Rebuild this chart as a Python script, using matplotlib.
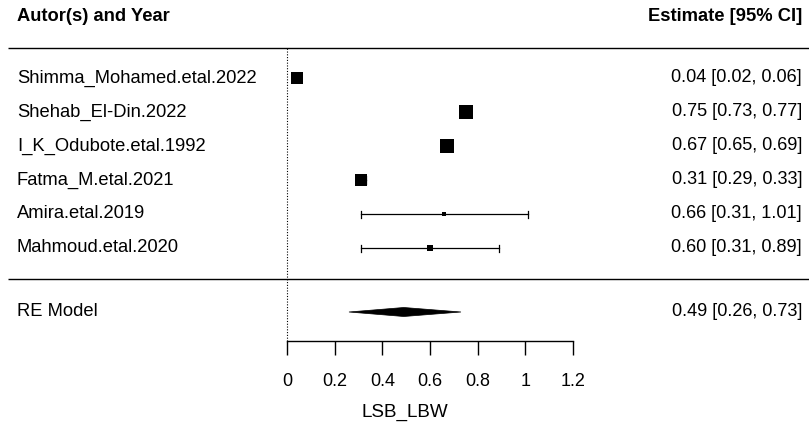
import matplotlib
matplotlib.use("Agg")
import matplotlib.pyplot as plt
from matplotlib.patches import Polygon

studies = ["Shimma_Mohamed.etal.2022", "Shehab_El-Din.2022", "I_K_Odubote.etal.1992",
           "Fatma_M.etal.2021", "Amira.etal.2019", "Mahmoud.etal.2020"]
est = [0.04, 0.75, 0.67, 0.31, 0.66, 0.60]
lo = [0.02, 0.73, 0.65, 0.29, 0.31, 0.31]
hi = [0.06, 0.77, 0.69, 0.33, 1.01, 0.89]
re_est, re_lo, re_hi = 0.49, 0.26, 0.73
xticks = [0, 0.2, 0.4, 0.6, 0.8, 1, 1.2]
xticklabels = ["0", "0.2", "0.4", "0.6", "0.8", "1", "1.2"]

# style
box_px = [12, 13, 13, 12, 3, 6]
FONT = "Liberation Sans"
FS_NAME = 13.2
FS_NUM = 13.1
FS_HEAD = 13.2
FS_TICK = 13.0
FS_XLAB = 13.6

W, H = 809, 424
fig = plt.figure(figsize=(W / 100, H / 100), dpi=100)
axis_px = 341
ax = fig.add_axes([0, (H - axis_px) / H, 1, axis_px / H])

x0_px, x12_px = 287, 573
ppu = (x12_px - x0_px) / 1.2
ax.set_xlim(-x0_px / ppu, (W - x0_px) / ppu)

# y: row units, 34 px per row; study rows k..1, top study at px 78
row_px = 34.0
k = len(studies)
top_row_px = 78
def ypx(p):
    return k - (p - top_row_px) / row_px
ax.set_ylim(ypx(axis_px), ypx(0))

rows = [k - i for i in range(k)]
re_row = ypx(312)

# zero line
ax.plot([0, 0], [ypx(axis_px), ypx(48)], color="black", linestyle=(0, (1, 1.5)), lw=0.8)
# horizontal rules
xl = ax.get_xlim()
for p in (48, 279):
    ax.plot([(8 - x0_px) / ppu, xl[1]], [ypx(p), ypx(p)], color="black", lw=1.0, solid_capstyle="butt")

cap = 3.5 / row_px
for r, e, l, h, s in zip(rows, est, lo, hi, box_px):
    ax.plot([l, h], [r, r], color="black", lw=0.9)
    ax.plot([l, l], [r - cap, r + cap], color="black", lw=0.9)
    ax.plot([h, h], [r - cap, r + cap], color="black", lw=0.9)
    ax.plot([e], [r], marker="s", color="black", markersize=s * 0.75, markeredgewidth=0)

dh = 4.5 / row_px
ax.add_patch(Polygon([(re_lo, re_row), (re_est, re_row + dh), (re_hi, re_row), (re_est, re_row - dh)],
                     closed=True, facecolor="black", edgecolor="black", lw=0.5))

# texts
tx_left = (17 - x0_px) / ppu
tx_right = (802 - x0_px) / ppu
for r, name, e, l, h in zip(rows, studies, est, lo, hi):
    ax.text(tx_left, r, name, ha="left", va="center", fontsize=FS_NAME, family=FONT)
    ax.text(tx_right, r, f"{e:.2f} [{l:.2f}, {h:.2f}]", ha="right", va="center", fontsize=FS_NUM, family=FONT)
ax.text(tx_left, re_row, "RE Model", ha="left", va="center", fontsize=FS_NAME, family=FONT)
ax.text(tx_right, re_row, f"{re_est:.2f} [{re_lo:.2f}, {re_hi:.2f}]", ha="right", va="center", fontsize=FS_NUM, family=FONT)
ax.text((17 - x0_px) / ppu, ypx(17), "Autor(s) and Year", ha="left", va="center", fontsize=FS_HEAD, family=FONT, fontweight="bold")
ax.text((802 - x0_px) / ppu, ypx(17), "Estimate [95% CI]", ha="right", va="center", fontsize=FS_HEAD, family=FONT, fontweight="bold")

# axis
for s in ("left", "right", "top"):
    ax.spines[s].set_visible(False)
ax.spines["bottom"].set_bounds(0, 1.2)
ax.spines["bottom"].set_linewidth(1.0)
ax.set_yticks([])
ax.set_xticks(xticks)
ax.set_xticklabels(xticklabels, fontsize=FS_TICK, family=FONT)
ax.tick_params(axis="x", length=10, width=1.0, pad=13)
ax.set_xlabel("LSB_LBW", fontsize=FS_XLAB, family=FONT, labelpad=10)

fig.savefig("out.png", dpi=100)
